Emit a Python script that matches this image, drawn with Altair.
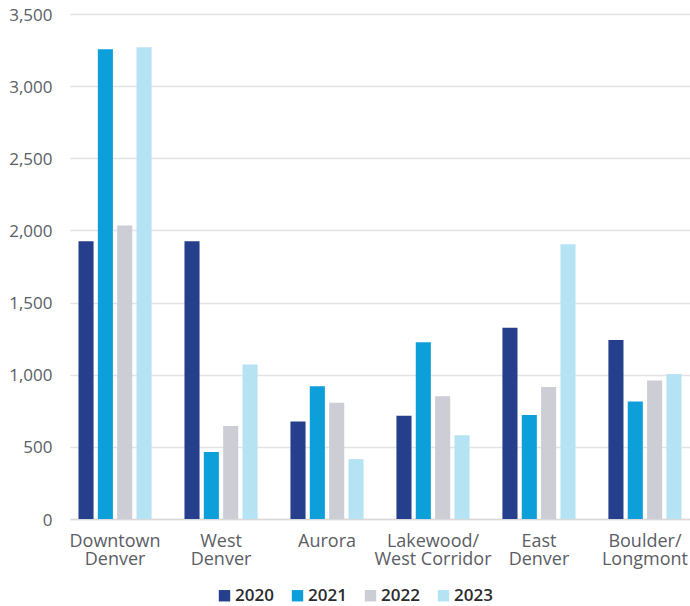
import altair as alt
import pandas as pd

# Submarket names and yearly values
submarkets = ["Downtown Denver", "West Denver", "Aurora",
              "Lakewood/West Corridor", "East Denver", "Boulder/Longmont"]
years = ["2020", "2021", "2022", "2023"]
values_2020 = [1925, 1925, 675, 715, 1325, 1240]
values_2021 = [3255, 465, 920, 1225, 720, 815]
values_2022 = [2035, 645, 805, 850, 915, 960]
values_2023 = [3270, 1070, 415, 580, 1905, 1005]
year_colors = ["#253f8c", "#0c9fd9", "#cdcdd5", "#b5e3f3"]
y_ticks = [0, 500, 1000, 1500, 2000, 2500, 3000, 3500]

series = dict(zip(years, [values_2020, values_2021, values_2022, values_2023]))
rows = []
for yr, vals in series.items():
    for name, v in zip(submarkets, vals):
        rows.append({"submarket": name, "year": yr, "value": v})
df = pd.DataFrame(rows)

# Break names after a slash, otherwise at the first space
label_expr = (
    "indexof(datum.label, '/') >= 0 ? "
    "[substring(datum.label, 0, indexof(datum.label, '/') + 1), "
    "substring(datum.label, indexof(datum.label, '/') + 1)] : "
    "split(datum.label, ' ')"
)

font = "Open Sans"

chart = alt.Chart(df).mark_bar().encode(
    x=alt.X(
        "submarket:N",
        sort=submarkets,
        title=None,
        scale=alt.Scale(paddingInner=0.27, paddingOuter=0.06),
        axis=alt.Axis(
            labelAngle=0,
            labelExpr=label_expr,
            labelFont=font,
            labelFontSize=18,
            labelColor="#5b5d64",
            labelLineHeight=18,
            labelPadding=13,
            labelBaseline="top",
            ticks=False,
            domain=True,
            domainColor="#d9d9d9",
            domainWidth=1.5,
            grid=False,
        ),
    ),
    xOffset=alt.XOffset(
        "year:N",
        sort=years,
        scale=alt.Scale(paddingInner=0.22, paddingOuter=0.11),
    ),
    y=alt.Y(
        "value:Q",
        title=None,
        scale=alt.Scale(domain=[0, 3500], nice=False),
        axis=alt.Axis(
            values=y_ticks,
            format=",d",
            labelFont=font,
            labelFontSize=17,
            labelColor="#5b5d64",
            labelPadding=18,
            labelOffset=1,
            ticks=False,
            domain=False,
            grid=True,
            gridColor="#e3e3e3",
            gridWidth=1.5,
        ),
    ),
    color=alt.Color(
        "year:N",
        sort=years,
        scale=alt.Scale(domain=years, range=year_colors),
        legend=alt.Legend(
            title=None,
            orient="none",
            direction="horizontal",
            columns=4,
            legendX=146,
            legendY=573,
            symbolType="square",
            symbolSize=130,
            symbolStrokeWidth=0,
            labelFont=font,
            labelFontSize=17,
            labelFontWeight=600,
            labelColor="#2b2b2e",
            labelOffset=2,
            columnPadding=15,
        ),
    ),
).properties(
    width=620,
    height=505,
    padding={"left": 70, "top": 14, "right": 0, "bottom": 87},
    autosize=alt.AutoSizeParams(type="none"),
).configure_view(stroke=None)

chart.save("out.html", embed_options={"renderer": "svg", "actions": False})
